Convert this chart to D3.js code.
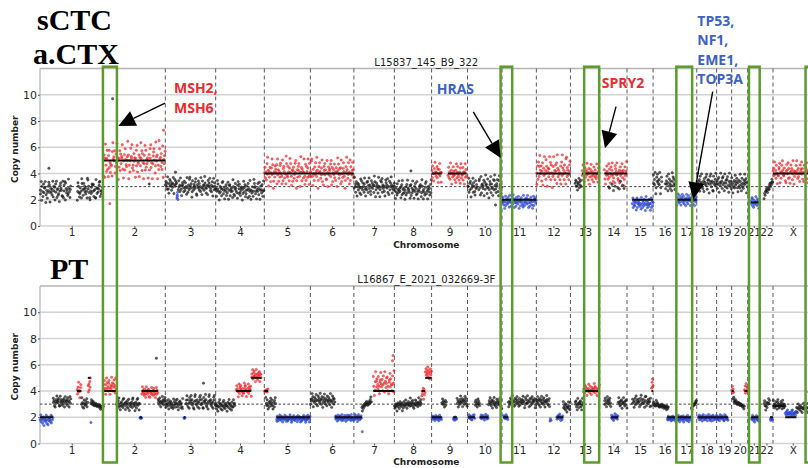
<!DOCTYPE html>
<html><head><meta charset="utf-8">
<script src="https://cdn.jsdelivr.net/npm/d3@7"></script>
<style>body{margin:0;background:#fff}svg{display:block}</style>
</head><body>
<svg id="c" width="808" height="468"></svg>
<script>
// ---------------- DATA ----------------
const chromosomes = ["1","2","3","4","5","6","7","8","9","10","11","12","13","14","15","16","17","18","19","20","21","22","X"];
const chromSizes = [249.3,243.2,198.0,191.2,180.9,171.1,159.1,146.4,141.2,135.5,135.0,133.9,115.2,107.3,102.5,90.4,81.2,78.1,59.1,63.0,48.1,51.3,155.3];
const yTicks = [0,2,4,6,8,10];
const yMax = 12;
const ploidyLine = 3;
const panelTitles = ["L15837_145_B9_322","L16867_E_2021_032669-3F"];
const sampleLabels = [["sCTC","a.CTX"],["PT"]];
const axisLabels = {x:"Chromosome", y:"Copy number"};
// [chromosome, startMb, endMb, state (G gain / N neutral / L loss), centre, spread, segment copy number, bin offset digits]
const ctcSegments = [
 ["1",0,122,"N",2.7,1.0,null,"5290741836690251374880364259174708391562304786521914790863522964157"],
 ["1",145,249,"N",2.75,0.9,null,"038731264098518573624099573104268378145109626357891424367"],
 ["2",0,243,"G",5.0,1.6,5,"070593158206824133079564812739460258173659204718532649703148659231746058291437062958174036918253604718592403678512964703198562741905368"],
 ["3",0,45,"N",3.15,0.8,null,"4736192058374156290483756"],
 ["3",45,50,"L",2.2,0.5,null,"37592"],
 ["3",50,198,"N",3.0,0.85,null,"284619305764182375094162895370184265379106483725194083625974136085749236180492753"],
 ["4",0,191,"N",2.75,0.85,null,"613958402736158924705381629047815364097215864307925831647025936812475086139504271398672405386190475281394"],
 ["5",0,181,"G",4.1,1.3,4,"4725183960527146938015276480936152784309167524098327516948306157238490162758304971652493081752693084"],
 ["6",0,171,"G",4.1,1.3,4,"52893064173852960174852369140758362190473658290714638251704958236709142685301749623850917435862"],
 ["7",0,159,"N",3.0,0.85,null,"395168047265139084275169304278159362084736159802746139502847916352048763915082749613527"],
 ["8",0,146,"N",2.75,0.85,null,"74063185294637081952630471829654307816294507386192405376812974053186924057361829"],
 ["9",0,40,"G",4.1,0.9,4,"6184073952481703692504"],
 ["9",64,138,"G",4.0,1.0,4,"38261947052836417092584316079243816059273"],
 ["10",0,38,"N",3.0,0.9,null,"549172803649175208364"],
 ["10",43,135,"N",3.05,1.0,null,"278409156348072956138402759163408279531648207935614"],
 ["11",0,135,"L",1.85,0.6,2,"63852049173628509471358296074138526904715836209417538269407135862049175836"],
 ["12",0,134,"G",4.2,1.4,4,"40718269537148062935187046259381740269351748096253417082963517408926531748"],
 ["13",18,43,"N",3.2,0.6,null,"58273064917382"],
 ["13",45,115,"G",4.0,0.9,4,"369140825739614802759316408527319460825"],
 ["14",18,107,"G",4.0,1.0,4,"7205386419275083694125087639421570836492570183649"],
 ["14",30,100,"N",2.95,0.5,null,"5381642973"],
 ["15",20,103,"L",1.7,0.6,2,"4917362805917463825094176285039741623850491726"],
 ["16",0,35,"N",3.4,1.0,null,"8362901748536290174"],
 ["16",47,90,"N",3.3,0.9,null,"416385092741630958274136"],
 ["17",0,81,"L",2.0,0.55,2,"507294186307592481360592714863705294136805274"],
 ["18",0,78,"N",3.3,0.9,null,"2946170853924160753829146703859246108537294"],
 ["19",0,59,"N",3.3,0.9,null,"61738052946178350924671830594261"],
 ["20",0,63,"N",3.25,0.8,null,"84025719364820573196408251739648025"],
 ["21",12,48,"L",1.8,0.5,1.8,"36918407253961847025"],
 ["22",16,51,"N",2.8,0.8,null,"0213354265478687989"],
 ["X",0,155,"G",4.1,1.0,4,"5729361840327690518496327410586391720485713960254839617240856937150842739160548297361"]
];
const ctcOutliers = [["1",35,4.4,"N"],["2",36,9.7,"N"],["2",236,7.3,"G"],["2",25,1.7,"G"],["2",180,3.2,"N"],["3",40,4.1,"N"],["8",65,4.2,"N"],["10",110,1.6,"N"]];
const ptSegments = [
 ["1",0,51,"L",1.8,0.5,2,"4927516803652914807365291847"],
 ["1",51,122,"N",3.2,0.5,null,"836104729536810947251368049257138604927"],
 ["1",145,162,"G",4.1,0.7,4,"5172940368"],
 ["1",162,188,"N",3.05,0.5,null,"39615084273916"],
 ["1",188,199,"G",4.3,0.8,5,"6172849"],
 ["1",199,249,"N",2.9,0.5,null,"796858746574635463524132413"],
 ["2",0,51,"G",4.4,0.8,4,"6183059274168305294716385092"],
 ["2",51,143,"N",3.0,0.55,null,"47281953062741893560724815903624718953602714893605"],
 ["2",143,151,"L",1.95,0.2,2,"46354"],
 ["2",150,214,"G",3.9,0.5,4,"29574183069527481063592471863059274"],
 ["2",214,243,"N",3.2,0.5,null,"7361840529371648"],
 ["3",0,70,"N",3.0,0.5,null,"51846290735816420937518649203758146209"],
 ["3",73,78,"L",1.95,0.2,2,"4536"],
 ["3",80,198,"N",3.15,0.65,null,"3692714085693724105896327145086932741085639721405896372415086932"],
 ["4",0,76,"N",2.9,0.5,null,"751403829671450839261745038269715408329674"],
 ["4",80,140,"G",4.1,0.6,4,"483602917584306219578403629175480"],
 ["4",140,180,"G",5.2,0.6,5,"6291738405926137480562"],
 ["5",0,15,"G",4.0,0.3,4,"463728"],
 ["5",5,45,"N",3.05,0.55,null,"952830617492583061794"],
 ["5",47,181,"L",1.9,0.3,2,"3086152974186037429560831274598301647925163805924780361257946301842957038"],
 ["6",0,97,"N",3.3,0.6,null,"16395804276391508472396158027493165084276139502847163"],
 ["6",97,171,"L",1.95,0.3,2,"72840591638274095136287045916387420953612"],
 ["7",0,31,"L",1.95,0.3,2,"51963840279516384"],
 ["7",31,70,"N",3.0,0.6,null,"203142536475364758697"],
 ["7",76,159,"G",4.6,1.0,4,"8301596274183056942713850962478130569274138509"],
 ["8",0,107,"N",3.0,0.6,null,"31524036251473526041735284615374629357482615384736259473685"],
 ["8",107,121,"G",3.8,0.6,4,"27490836"],
 ["8",121,146,"G",5.4,0.6,5,"58263917405826"],
 ["9",0,40,"L",1.95,0.25,2,"6184730592681470395261"],
 ["9",40,58,"N",3.1,0.4,null,"4927305816"],
 ["9",85,99,"L",1.9,0.25,2,"37158264"],
 ["9",99,141,"N",3.2,0.5,null,"82604173952806471935820"],
 ["10",3,29,"L",2.0,0.25,2,"49273610585492"],
 ["10",29,49,"N",3.1,0.4,null,"61830592741"],
 ["10",49,82,"L",2.0,0.25,2,"539174826035971482"],
 ["10",82,135,"N",3.1,0.5,null,"27493618057294316085273491680"],
 ["11",5,24,"L",2.0,0.25,2,"8365192740"],
 ["11",24,135,"N",3.2,0.5,null,"40518372964508173926408153726945018732964058137926458017"],
 ["12",0,53,"N",3.2,0.5,null,"63927158046932718504639721580"],
 ["12",53,58,"L",1.8,0.3,null,"274"],
 ["12",79,105,"L",2.0,0.3,2,"51738269405137"],
 ["12",105,134,"N",2.8,0.5,null,"9362817405392618"],
 ["13",18,50,"N",3.0,0.5,null,"748203961574820396"],
 ["13",50,115,"G",4.1,0.5,4,"259184703629518407362598174036259"],
 ["14",18,45,"N",3.2,0.5,null,"618305927461830"],
 ["14",45,72,"L",2.0,0.3,2,"384170529638417"],
 ["14",72,107,"N",3.1,0.5,null,"5936172804593617280"],
 ["15",20,96,"N",3.2,0.55,null,"2740581936274508196327405891362745081"],
 ["15",96,103,"G",4.3,0.7,4,"38496"],
 ["16",0,60,"N",2.85,0.5,null,"786574968576453645735462534251423"],
 ["16",55,90,"L",1.9,0.25,2,"5192637408519263740"],
 ["17",0,60,"L",1.9,0.3,2,"268419305728641903572681493057268"],
 ["17",60,81,"N",2.9,0.5,null,"213546576879"],
 ["18",5,78,"L",1.95,0.3,2,"749162830579416238507496128305791462385"],
 ["19",0,45,"L",1.95,0.3,2,"3825170946385271094683251"],
 ["20",0,8,"G",4.0,0.5,4,"59273"],
 ["20",5,50,"N",3.0,0.6,null,"8967786574566453544332312"],
 ["20",50,63,"G",4.1,0.6,4,"4819375"],
 ["21",14,48,"L",1.9,0.3,2,"6294815037692481530"],
 ["22",16,38,"N",3.0,0.5,null,"583027164958"],
 ["22",40,51,"L",1.9,0.3,2,"417362"],
 ["X",0,48,"N",2.95,0.45,2.85,"93615284079631528470936152"],
 ["X",48,92,"L",2.3,0.3,2,"471829503647128953064718"],
 ["X",92,140,"N",2.7,0.4,null,"604937281560439728516049"],
 ["X",140,155,"G",4.0,0.5,4,"36185274"]
];
const ptOutliers = [["2",208,6.5,"N"],["7",152,6.3,"G"],["7",154,6.7,"G"],["7",33,0.9,"L"],["3",150,4.6,"N"],["1",200,1.6,"L"]];
// highlighted regions [chromosome, startMb, endMb]
const highlightRegions = [["2",-2,53],["11",-5.5,40],["13",54,113],["17",1,63],["21",5,47],["X",128,175]];
// gene call-outs: text anchor / arrow start / arrow tip as [chromosome, Mb, copy number]
const annotations = [
 {lines:["MSH2,","MSH6"], state:"G", text:["3",34.2,10.13], from:["2",242,9.37], to:["2",58.5,7.62]},
 {lines:["HRAS"], state:"L", text:["9",20,10.05], from:["10",22.7,8.7], to:["10",130.4,5.18]},
 {lines:["SPRY2"], state:"G", text:["14",7.8,10.51], from:["14",64,9.09], to:["14",20.7,5.92]},
 {lines:["TP53,","NF1,","EME1,","TOP3A"], state:"L", text:["18",2.1,15.27], from:["18",62.6,10.23], to:["17",67.6,2.03]}
];

// ---------------- DRAWING ----------------
const svg = d3.select("#c");
const pointColor = {G:"#f0282c", N:"#1c1c1c", L:"#2a46d4"};
const textColor = {G:"#ee2a2e", L:"#3d62c2"};
const cumStart = chromSizes.map((d,i)=>d3.sum(chromSizes.slice(0,i)));
const total = d3.sum(chromSizes);
const x = d3.scaleLinear().domain([0,total]).range([40,812.5]);
const gx = (c,mb)=>x(cumStart[chromosomes.indexOf(c)]+mb);
const centers = chromosomes.map((c,i)=>cumStart[i]+chromSizes[i]/2);
// decode a bin's offset: two consecutive code digits give a level 0..99, shaped toward the centre
function binOffset(code,i){
  const q = (10*(+code[i]) + (+code[(i+1)%code.length]) + 0.5)/100;
  const z = 2*q-1;
  return z*(0.55+0.45*z*z);
}
// position of a bin inside its slot, read from the following code digit
function binShift(code,i){ return ((+code[(i+2)%code.length]) - 4.5)/9*0.8; }

const panels = [
 {title:panelTitles[0], segs:ctcSegments, out:ctcOutliers, y:d3.scaleLinear().domain([0,yMax]).range([226,68.5])},
 {title:panelTitles[1], segs:ptSegments, out:ptOutliers, y:d3.scaleLinear().domain([0,yMax]).range([443.5,286])}
];

panels.forEach((p,pi)=>{
  const g = svg.append("g");
  const y = p.y;
  g.selectAll(".grid").data(yTicks.concat([yMax])).join("line")
    .attr("x1",x(0)).attr("x2",x(total)).attr("y1",d=>y(d)).attr("y2",d=>y(d))
    .attr("stroke",d=>d===yMax?"#b4b4b4":"#d2d2d2").attr("stroke-width",1.5);
  g.append("line").attr("x1",x(0)).attr("x2",x(0)).attr("y1",y(0)).attr("y2",y(yMax))
    .attr("stroke","#b4b4b4").attr("stroke-width",1.2);
  g.selectAll(".bound").data(cumStart.slice(1)).join("line")
    .attr("x1",d=>x(d)).attr("x2",d=>x(d)).attr("y1",y(yMax)).attr("y2",y(0))
    .attr("stroke","#5a5a5a").attr("stroke-width",1).attr("stroke-dasharray","4,3");
  g.append("line").attr("x1",x(0)).attr("x2",x(total)).attr("y1",y(ploidyLine)).attr("y2",y(ploidyLine))
    .attr("stroke","#444").attr("stroke-width",1).attr("stroke-dasharray","2.5,2");
  const pts = [];
  p.segs.forEach(s=>{
    const [c,a,b,st,ctr,spr,lv,code] = s;
    const n = code.length, step = (b-a)/n;
    for(let i=0;i<n;i++){
      pts.push({x:gx(c,a+(i+0.5+binShift(code,i))*step), v:ctr+spr*binOffset(code,i), st});
    }
  });
  p.out.forEach(o=>pts.push({x:gx(o[0],o[1]), v:o[2], st:o[3]}));
  g.selectAll(".pt").data(pts).join("circle")
    .attr("cx",d=>d.x).attr("cy",d=>y(d.v)).attr("r",1.2)
    .attr("fill",d=>pointColor[d.st]).attr("fill-opacity",0.7)
    .attr("stroke",d=>pointColor[d.st]).attr("stroke-width",0.4);
  g.selectAll(".seg").data(p.segs.filter(s=>s[6]!==null)).join("line")
    .attr("x1",s=>gx(s[0],s[1])).attr("x2",s=>gx(s[0],s[2]))
    .attr("y1",s=>y(s[6])).attr("y2",s=>y(s[6]))
    .attr("stroke","#111").attr("stroke-width",2);
  const ya = g.append("g").attr("transform",`translate(${x(0)},0)`)
    .call(d3.axisLeft(y).tickValues(yTicks).tickSize(2).tickPadding(1));
  const xa = g.append("g").attr("transform",`translate(0,${y(0)})`)
    .call(d3.axisBottom(x).tickValues(centers).tickFormat((d,i)=>chromosomes[i]).tickSize(2).tickPadding(1));
  [ya,xa].forEach(a=>{
    a.select(".domain").remove();
    a.selectAll("line").attr("stroke","#555");
    a.selectAll("text").attr("font-family","DejaVu Sans").attr("fill","#2a2a2a");
  });
  ya.selectAll("text").attr("font-size",11);
  xa.selectAll("text").attr("font-size",10.5);
  g.append("text").attr("x",(x(0)+x(total))/2).attr("y",y(yMax)-3).attr("text-anchor","middle")
    .attr("font-family","DejaVu Sans").attr("font-size",10).attr("fill","#222").text(p.title);
  g.append("text").attr("x",(x(0)+x(total))/2).attr("y",y(0)+21.5).attr("text-anchor","middle")
    .attr("font-family","DejaVu Sans").attr("font-weight","bold").attr("font-size",9).attr("fill","#222").text(axisLabels.x);
  g.append("text").attr("transform",`translate(18,${(y(0)+y(yMax))/2+2}) rotate(-90)`).attr("text-anchor","middle")
    .attr("font-family","DejaVu Sans").attr("font-weight","bold").attr("font-size",9).attr("fill","#222").text(axisLabels.y);
});

const big = svg.append("g").attr("font-family","Liberation Serif").attr("font-weight","bold").attr("font-size",30).attr("fill","#000");
big.append("text").attr("x",37).attr("y",30).text(sampleLabels[0][0]);
big.append("text").attr("x",33).attr("y",64).text(sampleLabels[0][1]);
big.append("text").attr("x",50).attr("y",279).text(sampleLabels[1][0]);

const yt = panels[0].y, yb = panels[1].y;
svg.append("g").selectAll("rect").data(highlightRegions).join("rect")
  .attr("x",r=>gx(r[0],r[1])).attr("width",r=>gx(r[0],r[2])-gx(r[0],r[1]))
  .attr("y",yt(yMax)-1.8).attr("height",(yb(0)+19)-(yt(yMax)-1.8))
  .attr("fill","none").attr("stroke","#5c9b2e").attr("stroke-width",2.5);

const ag = svg.append("g");
annotations.forEach(a=>{
  const tx = gx(a.text[0],a.text[1]), ty = yt(a.text[2]);
  const t = ag.append("text").attr("font-family","Open Sans").attr("font-weight","bold").attr("font-size",14)
    .attr("fill",textColor[a.state]);
  a.lines.forEach((l,i)=>t.append("tspan").attr("x",tx).attr("y",ty+i*19.5).text(l));
  const x1=gx(a.from[0],a.from[1]), y1=yt(a.from[2]), x2=gx(a.to[0],a.to[1]), y2=yt(a.to[2]);
  const ang=Math.atan2(y2-y1,x2-x1), L=17, Wd=8;
  const bx=x2-L*Math.cos(ang), by=y2-L*Math.sin(ang);
  const px=-Math.sin(ang), py=Math.cos(ang);
  ag.append("line").attr("x1",x1).attr("y1",y1).attr("x2",bx).attr("y2",by).attr("stroke","#000").attr("stroke-width",1.4);
  ag.append("path").attr("d",`M${x2},${y2}L${bx+px*Wd},${by+py*Wd}L${bx-px*Wd},${by-py*Wd}Z`).attr("fill","#000");
});
</script>
</body></html>
